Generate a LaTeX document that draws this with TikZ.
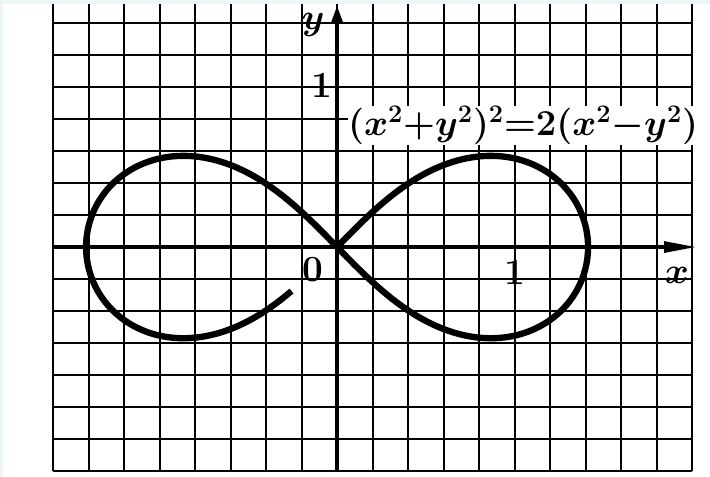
\documentclass[tikz,border=0pt]{standalone}
\usepackage{amsmath,amssymb}
\usepackage{tikz}
\usetikzlibrary{arrows.meta}
\usepackage{xcolor}
\definecolor{scanedge}{RGB}{236,246,247}

\begin{document}
\begin{tikzpicture}[x=3.55cm,y=3.2cm,
    lbl/.style={font=\fontsize{21}{25}\selectfont\bfseries\boldmath,inner sep=1pt},
    gridline/.style={line width=1.2pt},
    axisline/.style={line width=2.4pt}]
  \useasboundingbox (-1.899,-1.431) rectangle (2.101,1.544);
  % scan edges
  \fill[scanedge] (-1.899,1.519) rectangle (2.101,1.544);
  \fill[scanedge] (-1.899,-1.431) rectangle (-1.882,1.544);
  % grid
  \draw[gridline,step=0.2] (-1.6,-1.4) grid (2.0,1.519);
  % axes
  \draw[axisline,-{Triangle[length=19pt,width=6pt]}] (-1.6,0) -- (2.03,0);
  \draw[axisline,-{Triangle[length=10pt,width=6pt]}] (0,-1.4) -- (0,1.513);
  % lemniscate
  \draw[line width=3.6pt,smooth,domain=110:450,samples=240,variable=\t]
    plot ({sqrt(2)*cos(\t)/(1+sin(\t)^2)},{1.14*sqrt(2)*sin(\t)*cos(\t)/(1+sin(\t)^2)});
  % labels
  \node[lbl] (ylabel) at (-0.135,1.39) {$y$};
  \node[lbl] (yone) at (-0.085,1.01) {1};
  \node[lbl] (origin) at (-0.135,-0.14) {0};
  \node[lbl] (xone) at (1.003,-0.16) {1};
  \node[lbl] (xlabel) at (1.915,-0.18) {$x$};
  \node[lbl,font=\fontsize{22}{26}\selectfont\bfseries\boldmath,anchor=west,fill=white,inner sep=0pt]
    (eqn) at (0.06,0.76) {$(x^2{+}y^2)^2{=}2(x^2{-}y^2)$};
\end{tikzpicture}
\end{document}
